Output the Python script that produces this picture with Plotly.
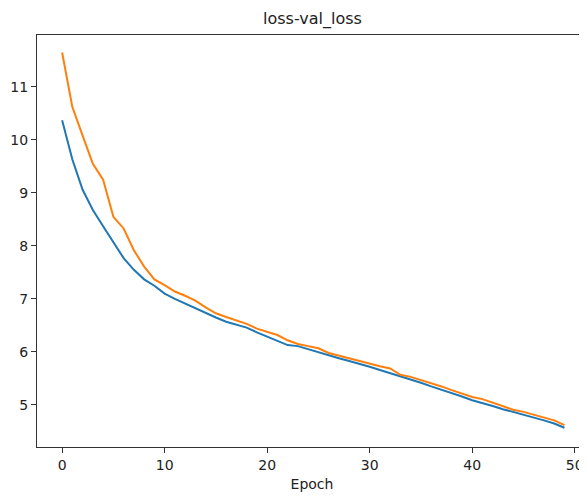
import plotly.graph_objects as go

epochs = list(range(50))
loss = [10.37, 9.63, 9.06, 8.68, 8.37, 8.06, 7.77, 7.55, 7.37, 7.25,
        7.10, 7.00, 6.91, 6.83, 6.74, 6.65, 6.57, 6.51, 6.46, 6.37,
        6.29, 6.22, 6.13, 6.11, 6.05, 6.00, 5.94, 5.88, 5.83, 5.78,
        5.72, 5.66, 5.60, 5.54, 5.49, 5.42, 5.35, 5.29, 5.23, 5.16,
        5.09, 5.04, 4.98, 4.92, 4.87, 4.82, 4.77, 4.71, 4.65, 4.57]
val_loss = [11.65, 10.62, 10.08, 9.55, 9.25, 8.55, 8.33, 7.92, 7.61, 7.37,
            7.26, 7.14, 7.06, 6.97, 6.84, 6.73, 6.66, 6.59, 6.53, 6.44,
            6.38, 6.32, 6.22, 6.15, 6.11, 6.07, 5.98, 5.93, 5.88, 5.82,
            5.77, 5.73, 5.69, 5.57, 5.53, 5.47, 5.42, 5.35, 5.28, 5.22,
            5.15, 5.11, 5.04, 4.98, 4.91, 4.87, 4.82, 4.77, 4.71, 4.62]
x_ticks = [0, 10, 20, 30, 40, 50]
y_ticks = [5, 6, 7, 8, 9, 10, 11]

font = "DejaVu Sans"

fig = go.Figure()
fig.add_trace(go.Scatter(x=epochs, y=loss, mode="lines", name="loss",
                         line=dict(color="#1f77b4", width=2)))
fig.add_trace(go.Scatter(x=epochs, y=val_loss, mode="lines", name="val_loss",
                         line=dict(color="#ff7f0e", width=2)))

# page body has an 8px default margin, so the figure is sized to fit the window
fig.update_layout(
    width=579, height=489,
    margin=dict(l=29, r=0, t=27, b=50, autoexpand=False),
    paper_bgcolor="white", plot_bgcolor="white",
    showlegend=False,
    font=dict(family=font, size=14, color="#222"),
    annotations=[dict(text="loss-val_loss", x=0.5, xref="paper", xanchor="center",
                      y=1, yref="paper", yanchor="bottom", yshift=4, showarrow=False,
                      font=dict(family=font, size=16, color="#222"))],
)
fig.update_xaxes(
    range=[-2.45, 51.2], tickvals=x_ticks, ticktext=[str(v) for v in x_ticks],
    showgrid=False, zeroline=False, automargin=False,
    showline=True, linecolor="#333", linewidth=1.2, mirror=True,
    ticks="outside", ticklen=5, tickcolor="#333", tickwidth=1,
    tickfont=dict(family=font, size=14, color="#222"),
    title=dict(text="Epoch", standoff=7, font=dict(family=font, size=14, color="#222")),
)
fig.update_yaxes(
    range=[4.207, 11.98], tickvals=y_ticks, ticktext=[str(v) for v in y_ticks],
    showgrid=False, zeroline=False, automargin=False,
    showline=True, linecolor="#333", linewidth=1.2,
    ticks="outside", ticklen=5, tickcolor="#333", tickwidth=1,
    tickfont=dict(family=font, size=14, color="#222"),
)

fig.write_html("out.html")
